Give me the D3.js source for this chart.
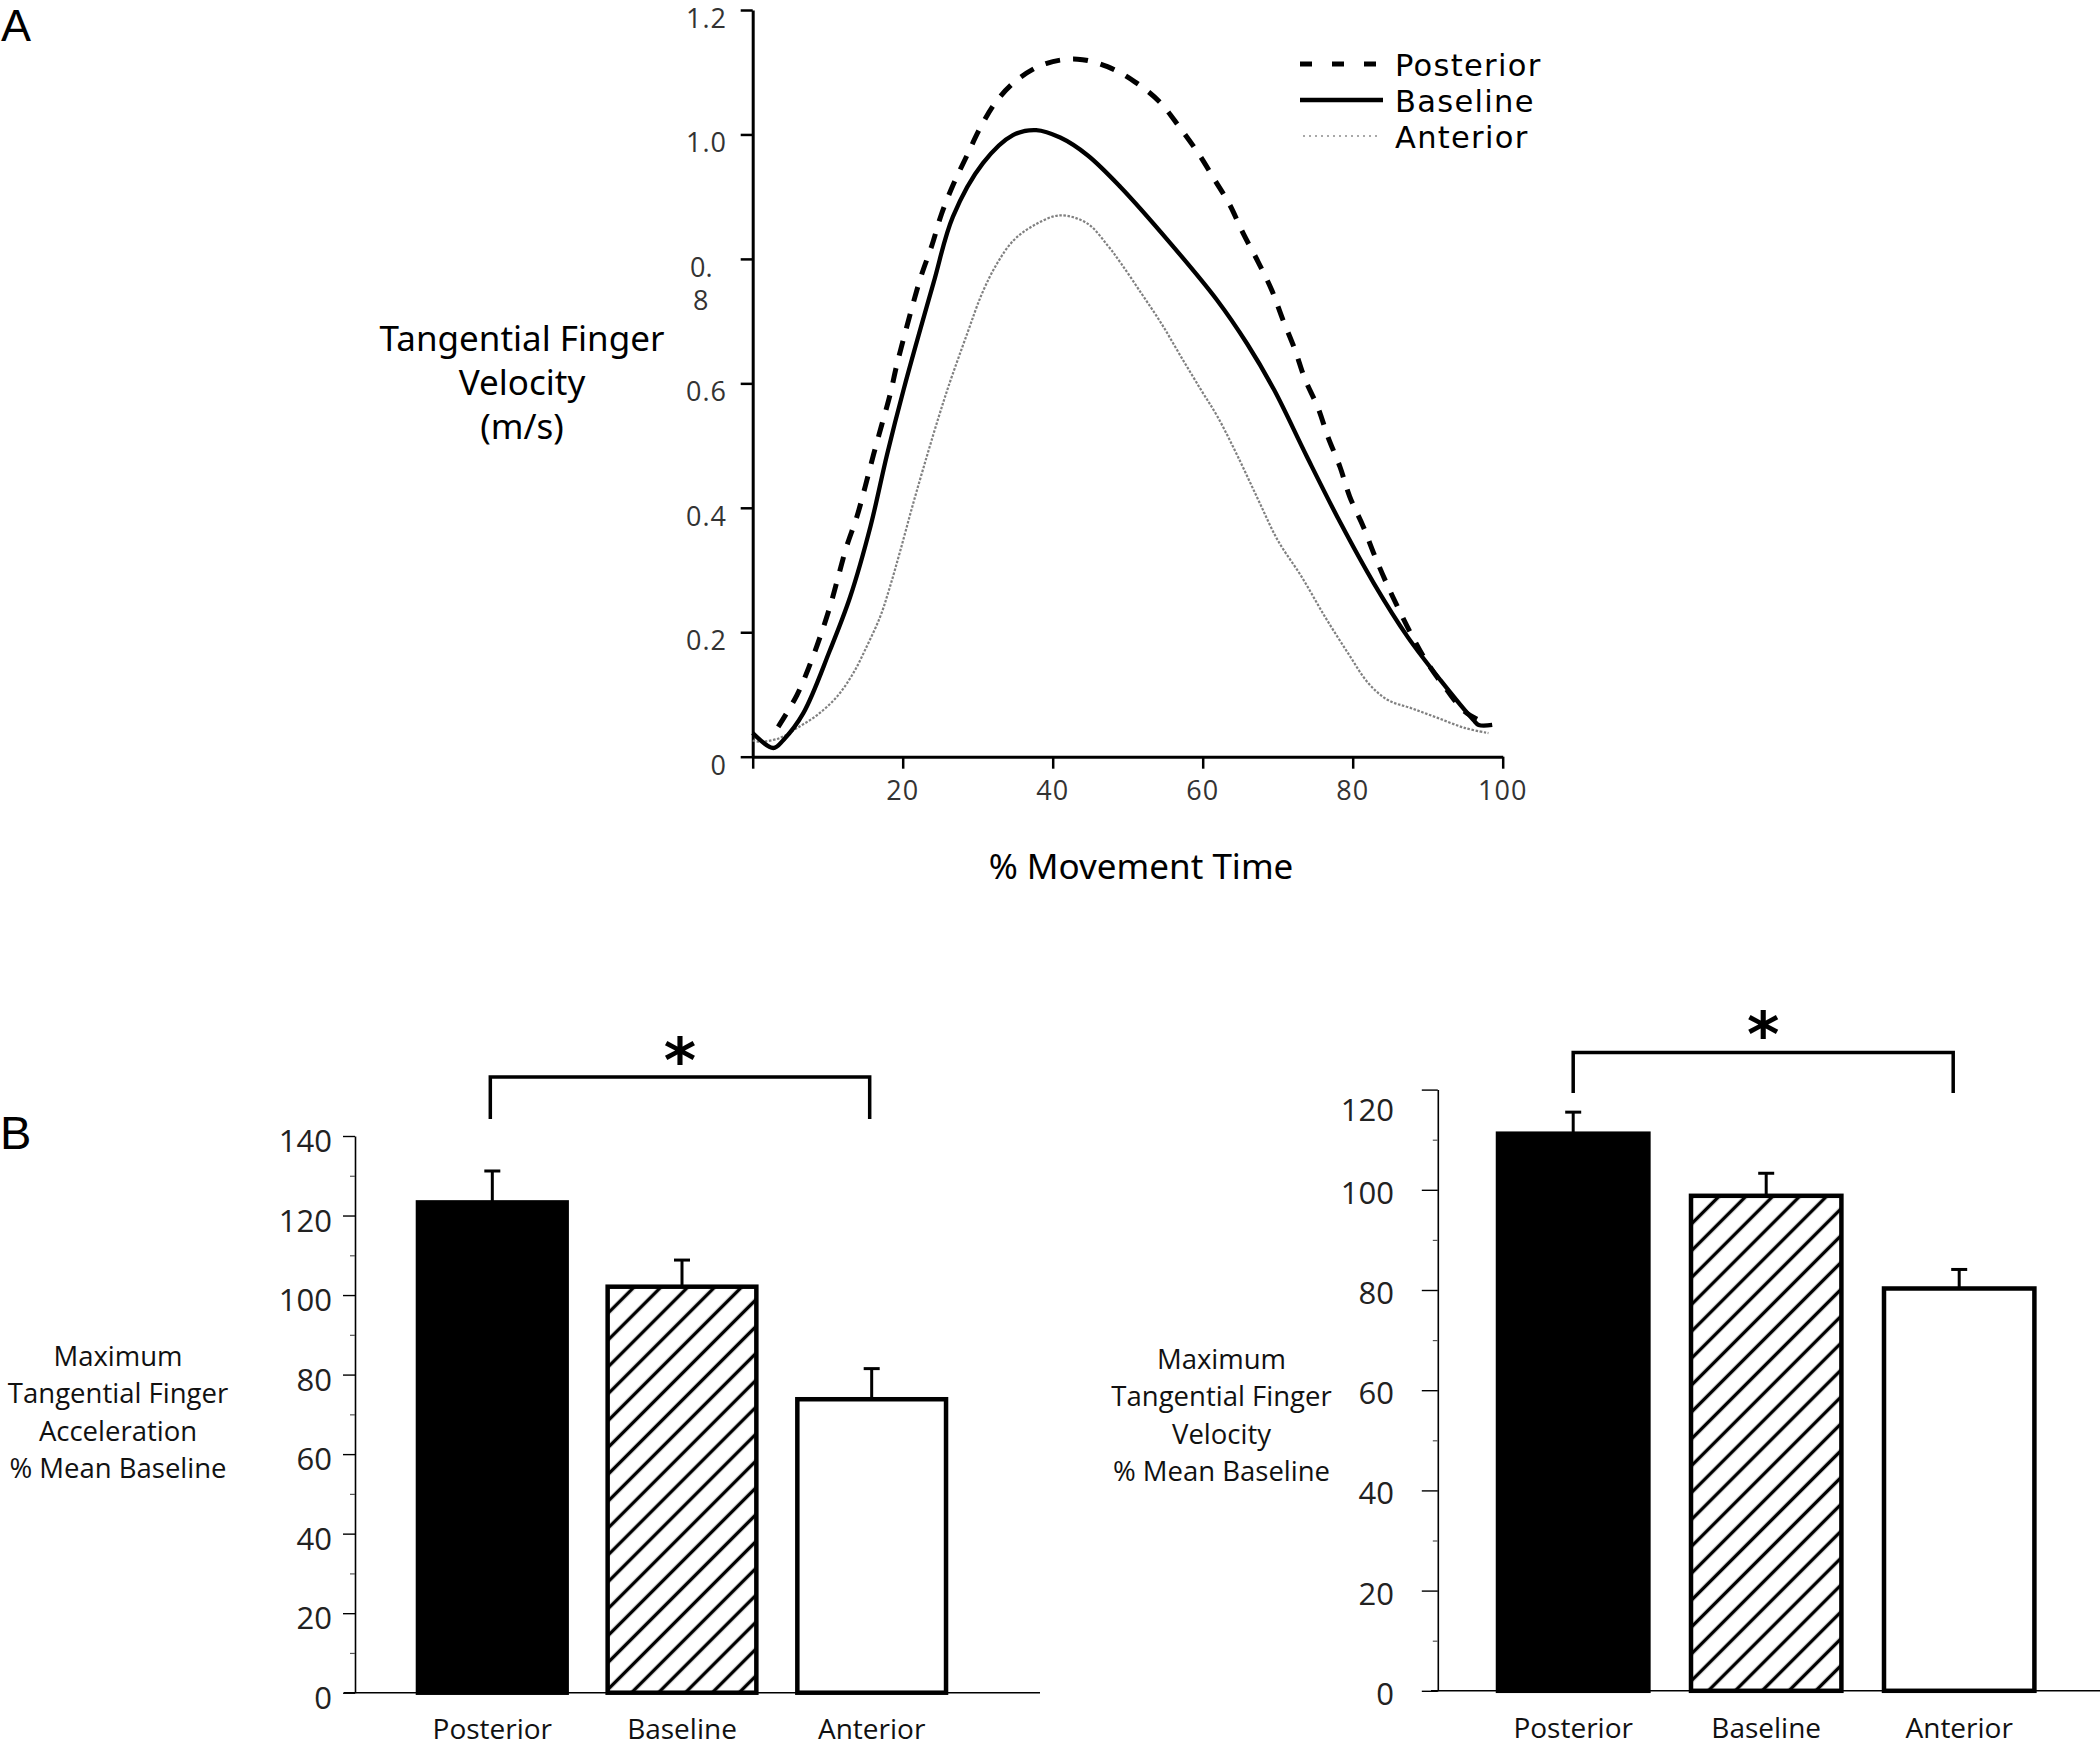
<!DOCTYPE html>
<html><head><meta charset="utf-8">
<script src="https://cdn.jsdelivr.net/npm/d3@7"></script>
<style>body{margin:0;background:#fff}</style>
</head><body>
<svg id="fig" width="2100" height="1748" xmlns="http://www.w3.org/2000/svg"></svg>
<script>
// ---------- Data: panel A (tangential finger velocity, m/s vs % movement time) ----------
const posteriorCurve = [[3.4,0.048],[5.9,0.099],[7.7,0.15],[9,0.193],[10.3,0.241],[11.4,0.289],[12.5,0.337],[13.9,0.386],[15,0.434],[16.1,0.485],[17.2,0.533],[18.3,0.581],[19.2,0.629],[20.3,0.68],[21.4,0.729],[22.5,0.774],[23.9,0.822],[25.2,0.873],[26.8,0.921],[28.6,0.967],[30.4,1.012],[32.6,1.055],[35.5,1.09],[39.1,1.114],[43.3,1.121],[47.3,1.109],[50.9,1.085],[54.2,1.053],[56.9,1.012],[59.4,0.97],[61.6,0.927],[63.6,0.887],[65.4,0.841],[67.4,0.795],[69.2,0.75],[70.7,0.702],[72.3,0.654],[73.6,0.608],[75.4,0.56],[76.7,0.514],[78.3,0.466],[79.6,0.418],[81.4,0.37],[82.9,0.324],[84.5,0.279],[86.3,0.233],[88.1,0.19],[90.1,0.148],[92.5,0.108],[95,0.072],[97.5,0.055]];
const baselineCurve = [[0,0.038],[2.75,0.014],[4.1,0.027],[6.75,0.07],[10.3,0.171],[13,0.257],[15.7,0.37],[17.9,0.485],[20.1,0.589],[24.1,0.761],[26.7,0.868],[30.7,0.954],[34.7,0.999],[37.8,1.007],[41,0.995],[44.6,0.967],[49,0.916],[55.7,0.825],[61.9,0.734],[65.9,0.664],[69.5,0.59],[73.9,0.482],[78.4,0.375],[82.8,0.279],[87.3,0.193],[91.7,0.123],[96.1,0.059],[96.8,0.051],[98.6,0.051]];
const anteriorCurve = [[0,0.026],[1,0.024],[3.6,0.03],[5.9,0.046],[8.6,0.067],[11.2,0.096],[13.4,0.134],[15.2,0.177],[17,0.225],[18.3,0.273],[19.7,0.332],[21.4,0.407],[23.2,0.482],[24.8,0.546],[26.1,0.595],[28.6,0.68],[30.6,0.745],[32.6,0.793],[34.8,0.83],[37.5,0.854],[41,0.87],[44.6,0.857],[47.3,0.822],[49.1,0.793],[51.8,0.745],[54.5,0.696],[57.1,0.643],[59.8,0.589],[62,0.546],[64.7,0.482],[67.4,0.413],[70,0.348],[73.2,0.289],[76.3,0.225],[79.4,0.166],[82.1,0.118],[84.7,0.091],[87.8,0.078],[91.4,0.062],[95,0.046],[98.1,0.038]];
const seriesNames = ["Posterior","Baseline","Anterior"];
const velocityTicks = [0,0.2,0.4,0.6,0.8,1.0,1.2];
const velocityTickLabels = ["0","0.2","0.4","0.6","0.|8","1.0","1.2"];
const timeTicks = [0,20,40,60,80,100];
const timeTickLabels = ["","20","40","60","80","100"];

// ---------- Data: panel B ----------
const conditions = ["Posterior","Baseline","Anterior"];
const accelMeans = [123.3,102.1,73.8];
const accelErrors = [7.9,6.7,7.7];
const velMeans = [111.2,98.8,80.3];
const velErrors = [4.3,4.5,3.8];
const accelTicks = [0,20,40,60,80,100,120,140];
const accelMinorTicks = [10,30,50,70,90,110,130];
const velTicks = [0,20,40,60,80,100,120];
const velMinorTicks = [10,30,50,70,90,110];

const svg = d3.select("#fig");
svg.append("rect").attr("width",2100).attr("height",1748).attr("fill","#fff");

const defs = svg.append("defs");
const pat = defs.append("pattern").attr("id","hatch").attr("patternUnits","userSpaceOnUse")
  .attr("width",19).attr("height",19).attr("patternTransform","rotate(45)");
pat.append("rect").attr("width",19).attr("height",19).attr("fill","#fff");
pat.append("line").attr("x1",9.5).attr("x2",9.5).attr("y1",0).attr("y2",19).attr("stroke","#000").attr("stroke-width",3.4);

const fontA = "'Noto Sans','Open Sans',sans-serif";
const fontB = "'Open Sans','Noto Sans',sans-serif";

// ---------- Panel letters ----------
svg.append("text").attr("x",1).attr("y",41).attr("font-family","'Liberation Sans',Arial,sans-serif").attr("font-size",45).text("A");
svg.append("text").attr("x",0).attr("y",1149).attr("font-family","'Liberation Sans',Arial,sans-serif").attr("font-size",47).text("B");

// ---------- Panel A ----------
const xA = d3.scaleLinear().domain([0,100]).range([752.7,1502.7]);
const yA = d3.scaleLinear().domain([0,1.2]).range([756.7,10]);
const gA = svg.append("g");

const xAxA = gA.append("g").attr("transform",`translate(0,${yA(0)})`)
  .call(d3.axisBottom(xA).tickValues(timeTicks).tickSize(12).tickSizeOuter(0).tickFormat(""));
const yAxA = gA.append("g").attr("transform",`translate(${xA(0)},0)`)
  .call(d3.axisLeft(yA).tickValues(velocityTicks).tickSize(12).tickSizeOuter(0).tickFormat(""));
[xAxA,yAxA].forEach(a=>{
  a.select(".domain").attr("stroke","#000").attr("stroke-width",3);
  a.selectAll(".tick line").attr("stroke","#000").attr("stroke-width",2.5);
});
timeTicks.forEach((t,i)=>{
  if(!timeTickLabels[i]) return;
  gA.append("text").attr("x",xA(t)).attr("y",yA(0)+43).attr("text-anchor","middle")
    .attr("font-family",fontB).attr("font-size",27).attr("letter-spacing",1).attr("fill","#333").text(timeTickLabels[i]);
});
velocityTicks.forEach((t,i)=>{
  const lab = velocityTickLabels[i];
  if(lab.includes("|")){
    const parts = lab.split("|");
    const tx = gA.append("text").attr("font-family",fontB).attr("font-size",27).attr("fill","#333");
    tx.append("tspan").attr("x",690).attr("y",yA(t)+18).text(parts[0]);
    tx.append("tspan").attr("x",693).attr("y",yA(t)+51).text(parts[1]);
  } else {
    gA.append("text").attr("x",727).attr("y",yA(t)+18).attr("text-anchor","end")
      .attr("font-family",fontB).attr("font-size",27).attr("letter-spacing",1).attr("fill","#333").text(lab);
  }
});

const lineA = d3.line().x(d=>xA(d[0])).y(d=>yA(d[1])).curve(d3.curveCatmullRom.alpha(0.5));
gA.append("path").datum(anteriorCurve).attr("d",lineA).attr("fill","none")
  .attr("stroke","#808080").attr("stroke-width",2.2).attr("stroke-dasharray","2.5,1.6");
gA.append("path").datum(baselineCurve).attr("d",lineA).attr("fill","none")
  .attr("stroke","#000").attr("stroke-width",4.3);
gA.append("path").datum(posteriorCurve).attr("d",lineA).attr("fill","none")
  .attr("stroke","#000").attr("stroke-width",5).attr("stroke-dasharray","15,13");

// axis titles
const yTitle = gA.append("text").attr("text-anchor","middle").attr("font-family",fontA).attr("font-size",35).attr("fill","#000");
["Tangential Finger","Velocity","(m/s)"].forEach((s,i)=>{
  yTitle.append("tspan").attr("x",522).attr("y",351+i*44).text(s);
});
gA.append("text").attr("x",1141).attr("y",879).attr("text-anchor","middle")
  .attr("font-family",fontA).attr("font-size",35).text("% Movement Time");

// legend
const legStyles = [
  {w:5,dash:"12,20",col:"#000",x1:1300,x2:1376},
  {w:4.3,dash:null,col:"#000",x1:1300,x2:1383},
  {w:1.6,dash:"2,4",col:"#8c8c8c",x1:1303,x2:1377}
];
seriesNames.forEach((n,i)=>{
  const ly = 64 + i*36;
  const s = legStyles[i];
  const l = gA.append("line").attr("x1",s.x1).attr("x2",s.x2).attr("y1",ly).attr("y2",ly)
    .attr("stroke",s.col).attr("stroke-width",s.w);
  if(s.dash) l.attr("stroke-dasharray",s.dash);
  gA.append("text").attr("x",1395).attr("y",ly+12).attr("font-family","'DejaVu Sans',sans-serif")
    .attr("font-size",30.5).attr("letter-spacing",1.3).text(n);
});

// ---------- Panel B ----------
function barPanel(cfg){
  const g = svg.append("g");
  const x = d3.scaleBand().domain(conditions).range(cfg.xRange).paddingInner(cfg.padIn).paddingOuter(cfg.padOut);
  const y = d3.scaleLinear().domain([0,cfg.max]).range(cfg.yRange);
  const fills = ["#000","url(#hatch)","#fff"];

  // x axis line
  g.append("line").attr("x1",cfg.xAxisStart).attr("x2",cfg.xAxisEnd).attr("y1",y(0)).attr("y2",y(0))
    .attr("stroke","#000").attr("stroke-width",1.6);
  // y axis
  const ay = g.append("g").attr("transform",`translate(${cfg.axisX},0)`)
    .call(d3.axisLeft(y).tickValues(cfg.ticks).tickSize(cfg.tickLen).tickSizeOuter(0).tickFormat(""));
  ay.select(".domain").attr("stroke","#000").attr("stroke-width",1.6);
  ay.selectAll(".tick line").attr("stroke","#000").attr("stroke-width",1.4);
  const am = g.append("g").attr("transform",`translate(${cfg.axisX},0)`)
    .call(d3.axisLeft(y).tickValues(cfg.minor).tickSize(5).tickSizeOuter(0).tickFormat(""));
  am.select(".domain").remove();
  am.selectAll(".tick line").attr("stroke","#555").attr("stroke-width",1.2);

  cfg.ticks.forEach(t=>{
    const dy = (cfg.labelNudge && cfg.labelNudge[t]) || 0;
    g.append("text").attr("x",cfg.labelX).attr("y",y(t)+cfg.labelDy+dy).attr("text-anchor","end")
      .attr("font-family",fontB).attr("font-size",31).attr("fill","#222").text(t);
  });

  // bars
  conditions.forEach((c,i)=>{
    const v = cfg.means[i], e = cfg.errs[i];
    const cx = x(c) + x.bandwidth()/2;
    // error bar (upper only)
    g.append("line").attr("x1",cx).attr("x2",cx).attr("y1",y(v)).attr("y2",y(v+e))
      .attr("stroke","#000").attr("stroke-width",3);
    g.append("line").attr("x1",cx-8).attr("x2",cx+8).attr("y1",y(v+e)).attr("y2",y(v+e))
      .attr("stroke","#000").attr("stroke-width",3);
    g.append("rect").attr("x",x(c)+2).attr("y",y(v)).attr("width",x.bandwidth()-4).attr("height",y(0)-y(v))
      .attr("fill",fills[i]).attr("stroke","#000").attr("stroke-width",4.5);
    g.append("text").attr("x",cx).attr("y",cfg.catY).attr("text-anchor","middle")
      .attr("font-family",fontB).attr("font-size",28).attr("fill","#111").text(c);
  });

  // significance bracket
  const xl = x(conditions[0]) + x.bandwidth()/2 + cfg.brOff[0];
  const xr = x(conditions[2]) + x.bandwidth()/2 + cfg.brOff[1];
  g.append("path").attr("d",`M${xl},${cfg.brLeg}V${cfg.brY}H${xr}V${cfg.brLeg}`)
    .attr("fill","none").attr("stroke","#000").attr("stroke-width",3.5);
  g.append("text").attr("x",(xl+xr)/2).attr("y",cfg.starY).attr("text-anchor","middle")
    .attr("font-family","'DejaVu Sans',sans-serif").attr("font-weight","bold").attr("font-size",62).text("*");

  // y label
  const yl = g.append("text").attr("text-anchor","middle").attr("font-family",fontB).attr("font-size",27.5).attr("fill","#111");
  cfg.ylabel.forEach((s,i)=>{
    yl.append("tspan").attr("x",cfg.ylabelX).attr("y",cfg.ylabelY+i*37.3).text(s);
  });
}

barPanel({
  xRange:[397,967], padIn:0.195, padOut:0.1,
  max:140, yRange:[1692.7,1136], ticks:accelTicks, minor:accelMinorTicks,
  means:accelMeans, errs:accelErrors,
  axisX:355, tickLen:12, labelX:332, labelDy:16,
  xAxisStart:344, xAxisEnd:1040, catY:1739,
  brOff:[-2,-2], brY:1077, brLeg:1119, starY:1082,
  ylabel:["Maximum","Tangential Finger","Acceleration","% Mean Baseline"], ylabelX:118, ylabelY:1366
});
barPanel({
  xRange:[1476.7,2055.7], padIn:0.2, padOut:0.1,
  max:120, yRange:[1690.8,1089.6], ticks:velTicks, minor:velMinorTicks,
  means:velMeans, errs:velErrors,
  axisX:1437.8, tickLen:16, labelX:1394, labelDy:14, labelNudge:{120:17},
  xAxisStart:1431, xAxisEnd:2100, catY:1738,
  brOff:[0,-6], brY:1052.5, brLeg:1093, starY:1056,
  ylabel:["Maximum","Tangential Finger","Velocity","% Mean Baseline"], ylabelX:1221.5, ylabelY:1369
});
</script>
</body></html>
